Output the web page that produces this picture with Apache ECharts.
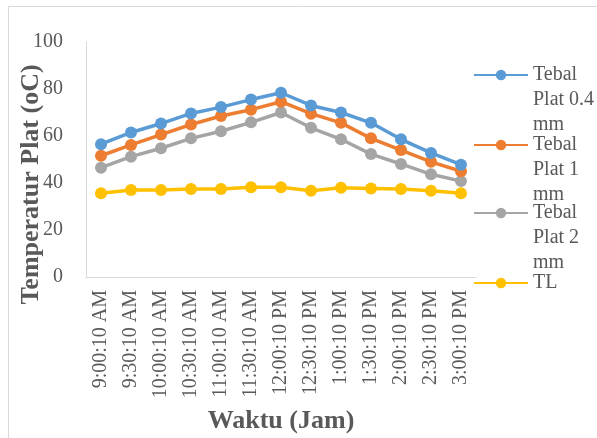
<!DOCTYPE html>
<html>
<head>
<meta charset="utf-8">
<script src="https://cdn.jsdelivr.net/npm/echarts@6/dist/echarts.min.js"></script>
<style>
html,body{margin:0;padding:0;background:#fff;}
#chart{width:597px;height:438px;}
</style>
</head>
<body>
<div id="chart"></div>
<script>
var categories = ['9:00:10 AM','9:30:10 AM','10:00:10 AM','10:30:10 AM','11:00:10 AM','11:30:10 AM','12:00:10 PM','12:30:10 PM','1:00:10 PM','1:30:10 PM','2:00:10 PM','2:30:10 PM','3:00:10 PM'];
var plat04 = [56.5, 61.5, 65.3, 69.6, 72.3, 75.5, 78.4, 73.0, 70.0, 65.6, 58.6, 52.8, 47.8];
var plat1  = [51.6, 56.2, 60.6, 64.9, 68.5, 71.2, 74.6, 69.5, 65.6, 59.0, 54.0, 49.0, 45.0];
var plat2  = [46.5, 51.2, 54.8, 59.0, 62.0, 65.8, 70.0, 63.5, 58.6, 52.3, 48.1, 43.7, 40.8];
var tl     = [35.6, 37.0, 37.0, 37.4, 37.4, 38.2, 38.2, 36.7, 38.0, 37.7, 37.4, 36.7, 35.6];
var seriesNames = ['Tebal Plat 0.4 mm','Tebal Plat 1 mm','Tebal Plat 2 mm','TL'];
var legendLabels = ['Tebal\nPlat 0.4\nmm','Tebal\nPlat 1\nmm','Tebal\nPlat 2\nmm','TL'];
var colors = ['#5b9bd5','#ed7d31','#a5a5a5','#ffc000'];
var values = [plat04, plat1, plat2, tl];

var FONT = '"Liberation Serif","Times New Roman",serif';
var TXT = '#595959';

var chart = echarts.init(document.getElementById('chart'), null, {renderer:'canvas'});

var legendTops = [12.5, 82.5, 150.5, 270.5];
var legends = seriesNames.map(function(n, i){
  var multi = legendLabels[i].indexOf('\n') >= 0;
  // two leading blank lines keep the first text line level with the icon
  var label = multi ? '\n\n' + legendLabels[i] : legendLabels[i];
  return {
    data: [n],
    left: 473,
    top: legendTops[i],
    orient: 'vertical',
    padding: 0,
    itemWidth: 54,
    itemHeight: 13,
    itemGap: 0,
    selectedMode: false,
    formatter: function(){ return label; },
    textStyle: {fontFamily: FONT, fontSize: 20, color: TXT, lineHeight: 25}
  };
});

var series = seriesNames.map(function(n, i){
  return {
    name: n,
    type: 'line',
    data: values[i],
    symbol: 'circle',
    symbolSize: 12,
    color: colors[i],
    lineStyle: {width: 3.5, color: colors[i]},
    itemStyle: {color: colors[i]},
    z: 10 - i
  };
});

chart.setOption({
  backgroundColor: '#fff',
  animation: false,
  color: colors,
  grid: {left: 86, top: 42, width: 390, height: 235, containLabel: false, outerBoundsMode: 'none'},
  legend: legends,
  xAxis: {
    type: 'category',
    data: categories,
    boundaryGap: true,
    axisLine: {show: true, lineStyle: {color: '#d9d9d9', width: 1}},
    axisTick: {show: false},
    axisLabel: {rotate: 90, margin: 13, fontFamily: FONT, fontSize: 20, color: TXT, interval: 0},
    splitLine: {show: false},
    name: 'Waktu (Jam)',
    nameLocation: 'middle',
    nameGap: 131,
    nameMoveOverlap: false,
    nameTextStyle: {fontFamily: FONT, fontSize: 26, fontWeight: 'bold', color: TXT}
  },
  yAxis: {
    type: 'value',
    min: 0, max: 100, interval: 20,
    axisLine: {show: true, lineStyle: {color: '#d9d9d9', width: 1}},
    axisTick: {show: false},
    splitLine: {show: false},
    axisLabel: {margin: 23, fontFamily: FONT, fontSize: 20, color: TXT},
    name: 'Temperatur Plat (oC)',
    nameLocation: 'middle',
    nameRotate: 90,
    nameGap: 42,
    nameMoveOverlap: false,
    nameTextStyle: {fontFamily: FONT, fontSize: 26, fontWeight: 'bold', color: TXT, padding: [0, 50, 0, 0]}
  },
  graphic: [{
    type: 'rect', silent: true, z: -1,
    shape: {x: 8.5, y: 6.5, width: 620, height: 460},
    style: {fill: null, stroke: '#d9d9d9', lineWidth: 1}
  }],
  series: series
});
</script>
</body>
</html>
